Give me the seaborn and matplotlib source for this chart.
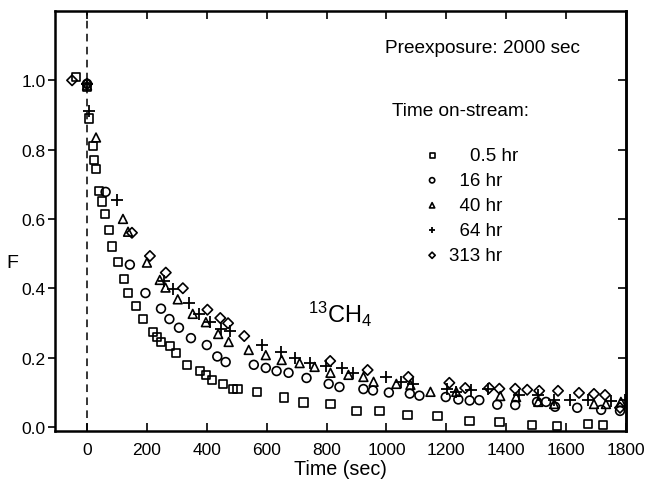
import numpy as np
import pandas as pd
import matplotlib
matplotlib.use("Agg")
import matplotlib.pyplot as plt
import seaborn as sns

# ---- data ----
t_05 = [-37, 0, 7, 20, 23, 30, 40, 50, 60, 73, 83, 103, 123, 137, 163, 187, 220, 233, 247, 277, 297,
        333, 377, 397, 417, 453, 487, 503, 567, 657, 723, 813, 900, 977, 1070, 1170, 1277, 1377,
        1487, 1570, 1673, 1723]
f_05 = [1.01, 0.98, 0.89, 0.81, 0.77, 0.745, 0.68, 0.65, 0.615, 0.568, 0.52, 0.475, 0.427, 0.386,
        0.349, 0.311, 0.274, 0.26, 0.245, 0.233, 0.213, 0.179, 0.161, 0.15, 0.135, 0.124, 0.11, 0.11,
        0.10, 0.085, 0.07, 0.066, 0.046, 0.046, 0.035, 0.032, 0.017, 0.014, 0.006, 0.003, 0.009, 0.006]

t_16 = [0, 62, 143, 195, 247, 275, 307, 347, 400, 435, 463, 557, 597, 633, 673, 733, 807, 843, 923,
        955, 1008, 1078, 1110, 1198, 1240, 1278, 1310, 1370, 1430, 1503, 1533, 1563, 1637, 1717, 1780]
f_16 = [0.99, 0.678, 0.468, 0.386, 0.341, 0.311, 0.286, 0.256, 0.236, 0.203, 0.187, 0.179, 0.17,
        0.161, 0.156, 0.141, 0.124, 0.115, 0.109, 0.105, 0.099, 0.096, 0.09, 0.086, 0.079, 0.076,
        0.077, 0.064, 0.063, 0.072, 0.072, 0.058, 0.055, 0.049, 0.046]

t_40 = [0, 30, 120, 137, 200, 243, 262, 303, 353, 397, 438, 473, 540, 597, 650, 710, 760, 813, 873,
        923, 957, 1033, 1080, 1147, 1233, 1380, 1433, 1507, 1560, 1693, 1733, 1783]
f_40 = [0.985, 0.835, 0.60, 0.563, 0.474, 0.424, 0.402, 0.368, 0.326, 0.302, 0.268, 0.245, 0.222,
        0.207, 0.193, 0.184, 0.173, 0.156, 0.15, 0.144, 0.13, 0.124, 0.121, 0.101, 0.101, 0.089,
        0.086, 0.072, 0.066, 0.066, 0.066, 0.072]

t_64 = [0, 7, 100, 258, 287, 340, 375, 410, 447, 477, 585, 647, 693, 745, 798, 850, 887, 997, 1047,
        1087, 1203, 1233, 1283, 1340, 1443, 1507, 1560, 1613, 1673, 1750, 1797]
f_64 = [0.99, 0.91, 0.655, 0.421, 0.397, 0.357, 0.325, 0.302, 0.282, 0.276, 0.237, 0.216, 0.2, 0.185,
        0.176, 0.17, 0.155, 0.144, 0.13, 0.124, 0.11, 0.101, 0.107, 0.11, 0.092, 0.092, 0.078, 0.078,
        0.078, 0.075, 0.078]

t_313 = [-50, 0, 150, 210, 263, 320, 402, 445, 471, 525, 812, 937, 1073, 1210, 1263, 1343, 1377,
         1430, 1470, 1510, 1573, 1643, 1693, 1730, 1780]
f_313 = [1.0, 0.99, 0.56, 0.493, 0.445, 0.40, 0.338, 0.314, 0.299, 0.262, 0.19, 0.164, 0.144, 0.127,
         0.112, 0.112, 0.11, 0.11, 0.107, 0.104, 0.104, 0.098, 0.095, 0.092, 0.055]

series_labels = ["    0.5 hr", "  16 hr", "  40 hr", "  64 hr", "313 hr"]
series_t = [t_05, t_16, t_40, t_64, t_313]
series_f = [f_05, f_16, f_40, f_64, f_313]
series_markers = ["s", "o", "^", "+", "D"]
series_sizes = [36, 40, 40, 64, 28]

x_ticks = [0, 200, 400, 600, 800, 1000, 1200, 1400, 1600, 1800]
y_ticks = [0.0, 0.2, 0.4, 0.6, 0.8, 1.0]

# ---- style ----
sns.set_theme(style="ticks")
plt.rcParams["font.family"] = ["Liberation Sans", "DejaVu Sans"]
plt.rcParams["mathtext.default"] = "regular"
plt.rcParams["text.color"] = "black"
plt.rcParams["axes.labelcolor"] = "black"

fig = plt.figure(figsize=(6.49, 4.81), dpi=100)
ax = fig.add_axes([55 / 649, 1 - 432 / 481, (626 - 55) / 649, (432 - 12) / 481])

frames = []
for lab, t, f in zip(series_labels, series_t, series_f):
    frames.append(pd.DataFrame({"time": t, "F": f, "series": lab}))
df = pd.concat(frames, ignore_index=True)

for lab, mk, sz in zip(series_labels, series_markers, series_sizes):
    sub = df[df["series"] == lab]
    if mk == "+":
        sns.scatterplot(data=sub, x="time", y="F", marker=mk, s=sz, color="black",
                        linewidth=1.3, ax=ax, label=lab)
    else:
        sns.scatterplot(data=sub, x="time", y="F", marker=mk, s=sz, facecolor="none",
                        edgecolor="black", linewidth=1.2, ax=ax, label=lab)

ax.axvline(0, color="black", lw=1.1, ls=(0, (5, 3.5)), zorder=0)

ax.set_xlim(-107, 1800)
ax.set_ylim(-0.012, 1.2)
ax.set_xticks(x_ticks)
ax.set_yticks(y_ticks)
ax.set_yticklabels([f"{v:.1f}" for v in y_ticks])
ax.tick_params(axis="x", direction="in", top=True, bottom=True, length=6, width=1.2,
               labelsize=12.5, pad=8, colors="black")
ax.tick_params(axis="y", direction="out", left=True, right=False, length=5, width=1.2,
               labelsize=12.5, pad=1.5, colors="black")
sec = ax.secondary_yaxis("right")
sec.set_yticks([0.2, 0.4, 0.6, 0.8, 1.0])
sec.tick_params(direction="in", length=6, width=1.2, labelright=False, colors="black")
sec.spines["right"].set_linewidth(1.8)
sec.spines["right"].set_color("black")

for s in ax.spines.values():
    s.set_linewidth(1.8)
    s.set_color("black")

ax.set_xlabel("Time (sec)", fontsize=14.2, labelpad=1.5, color="black")
ax.set_ylabel("F", fontsize=14, rotation=0, va="center", ha="center", color="black")
ax.yaxis.set_label_coords(-0.075, 0.40)

ax.text(0.578, 0.912, "Preexposure: 2000 sec", transform=ax.transAxes, fontsize=13.7,
        ha="left", va="center", color="black")
ax.text(0.59, 0.763, "Time on-stream:", transform=ax.transAxes, fontsize=13.7,
        ha="left", va="center", color="black")
ax.text(0.443, 0.279, r"$^{13}$CH$_4$", transform=ax.transAxes, fontsize=17,
        ha="left", va="center", color="black")

leg = ax.legend(loc="upper left", bbox_to_anchor=(0.644, 0.676), frameon=False,
                fontsize=13.5, markerscale=0.6, handlelength=1.0, handletextpad=0.4,
                labelspacing=0.42, borderpad=0, borderaxespad=0)
for txt in leg.get_texts():
    txt.set_color("black")

fig.savefig("out.png", dpi=100)
